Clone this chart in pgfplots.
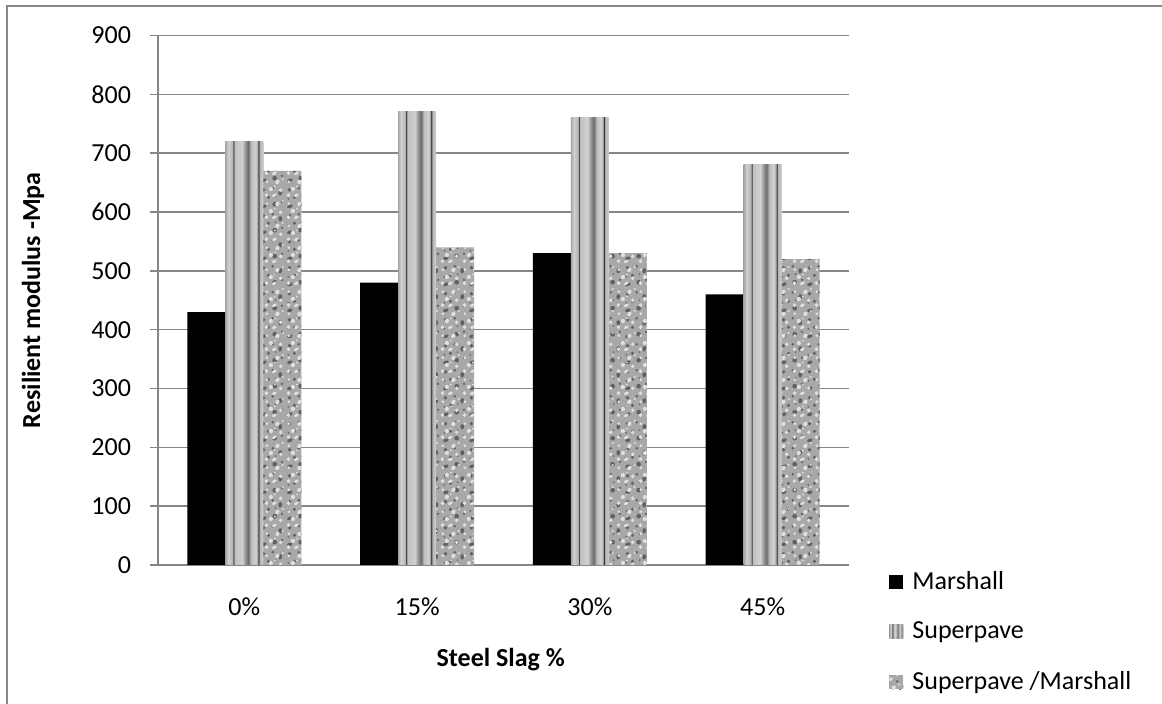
\documentclass[border=0pt]{standalone}
\usepackage{pgfplots}
\pgfplotsset{compat=1.18}
\usepackage{fontspec}
\setmainfont{Carlito}
\usetikzlibrary{patterns}

\definecolor{axisgray}{HTML}{868686}

% vertical stripes for the Superpave bars
\pgfdeclarehorizontalshading{stripes}{100bp}{%
  color(0bp)=(black!35); color(25bp)=(black!35);
  color(29bp)=(black!18); color(34.5bp)=(black!30);
  color(35.5bp)=(black!80); color(37bp)=(black!25);
  color(47bp)=(black!18); color(51bp)=(black!40);
  color(55bp)=(black!58); color(59bp)=(black!25);
  color(65bp)=(black!18); color(67.5bp)=(black!40);
  color(68.5bp)=(black!82); color(70bp)=(black!30);
  color(75bp)=(black!18); color(100bp)=(black!18)}

% mottled speckles for the Superpave/Marshall bars
\pgfdeclarepatternformonly{speckledark}{\pgfqpoint{0pt}{0pt}}{\pgfqpoint{13pt}{13pt}}{\pgfqpoint{13pt}{13pt}}{%
  \pgfpathellipse{\pgfqpoint{2.0pt}{1.9pt}}{\pgfqpoint{1.4pt}{0.3pt}}{\pgfqpoint{0pt}{0.9pt}}
  \pgfpathcircle{\pgfqpoint{7.6pt}{3.0pt}}{1.2pt}
  \pgfpathcircle{\pgfqpoint{4.4pt}{6.6pt}}{0.9pt}
  \pgfpathellipse{\pgfqpoint{10.5pt}{8.9pt}}{\pgfqpoint{0.9pt}{0.7pt}}{\pgfqpoint{-0.4pt}{1.2pt}}
  \pgfpathcircle{\pgfqpoint{1.8pt}{10.5pt}}{1.0pt}
  \pgfpathcircle{\pgfqpoint{6.6pt}{11.3pt}}{0.7pt}
  \pgfpathcircle{\pgfqpoint{11.4pt}{4.2pt}}{0.7pt}
  \pgfpathcircle{\pgfqpoint{8.1pt}{7.2pt}}{0.5pt}
  \pgfpathcircle{\pgfqpoint{1.2pt}{5.8pt}}{0.5pt}
  \pgfusepath{fill}}
\pgfdeclarepatternformonly{specklelight}{\pgfqpoint{0pt}{0pt}}{\pgfqpoint{11pt}{11pt}}{\pgfqpoint{11pt}{11pt}}{%
  \pgfpathcircle{\pgfqpoint{1.3pt}{1.5pt}}{1.0pt}
  \pgfpathellipse{\pgfqpoint{5.4pt}{1.4pt}}{\pgfqpoint{1.2pt}{0.4pt}}{\pgfqpoint{0pt}{0.8pt}}
  \pgfpathcircle{\pgfqpoint{3.6pt}{4.7pt}}{1.1pt}
  \pgfpathcircle{\pgfqpoint{8.7pt}{4.0pt}}{1.0pt}
  \pgfpathcircle{\pgfqpoint{1.5pt}{8.5pt}}{0.8pt}
  \pgfpathellipse{\pgfqpoint{7.0pt}{8.4pt}}{\pgfqpoint{1.1pt}{0.5pt}}{\pgfqpoint{-0.3pt}{1.0pt}}
  \pgfpathcircle{\pgfqpoint{9.8pt}{9.9pt}}{0.6pt}
  \pgfpathcircle{\pgfqpoint{5.7pt}{6.0pt}}{0.5pt}
  \pgfusepath{fill}}

\pgfplotstableread{
pos  marshall superpave ratio
0    430      720       670
1    480      770       540
2    530      760       530
3    460      680       520
}\slagdata

\begin{document}
\begin{tikzpicture}[font=\fontsize{13}{15.6}\selectfont]
\useasboundingbox (0,0) rectangle (581pt,352pt);
\begin{axis}[
  at={(79pt,69.5pt)}, anchor=south west,
  scale only axis, width=345.5pt, height=264.75pt,
  xmin=-0.5, xmax=3.5, ymin=0, ymax=900,
  axis x line=bottom, axis y line=left,
  axis line style={axisgray, line width=0.75pt, -},
  ytick={0,100,...,900},
  ymajorgrids,
  grid style={axisgray, line width=0.75pt},
  tick align=outside, major tick length=4pt,
  ytick style={axisgray, line width=0.75pt},
  xtick={0,1,2,3},
  xticklabels={0\%,15\%,30\%,45\%},
  major x tick style={draw=none},
  extra x ticks={-0.5,0.5,1.5,2.5,3.5},
  extra x tick labels={},
  extra x tick style={major x tick style={axisgray, line width=0.75pt}, grid=none},
  /pgf/number format/assume math mode=true,
  yticklabel style={anchor=east, xshift=-6pt},
  xticklabel style={anchor=center, yshift=-17pt},
  xlabel={\textbf{Steel Slag \%}},
  ylabel={\textbf{Resilient modulus -Mpa}},
  xlabel style={at={(axis description cs:0.496,-0.179)}, anchor=center},
  ylabel style={at={(axis description cs:-0.181,0.5)}, anchor=center},
  bar width=0.22,
  legend style={draw=none, fill=none, at={(axis description cs:1.058,-0.003)}, anchor=north west,
    inner sep=0pt, row sep=11pt, font=\fontsize{13}{15.6}\selectfont,
    nodes={inner xsep=4.5pt}},
  legend cell align=left,
  legend image code/.code={\path[#1] (0pt,-3.5pt) rectangle (7pt,3.5pt);},
]
\addplot[ybar, bar shift=-0.22, fill=black, draw=none] table[x=pos, y=marshall] {\slagdata};
\addlegendentry{Marshall}
% each Superpave bar on its own, so that the stripes fit every bar
\addplot[ybar, bar shift=0, shading=stripes, draw=none] coordinates {(0,720)};
\addlegendentry{Superpave}
\addplot[ybar, bar shift=0, shading=stripes, draw=none, forget plot] coordinates {(1,770)};
\addplot[ybar, bar shift=0, shading=stripes, draw=none, forget plot] coordinates {(2,760)};
\addplot[ybar, bar shift=0, shading=stripes, draw=none, forget plot] coordinates {(3,680)};
\addplot[ybar, bar shift=0.22, fill=black!34, draw=none,
  postaction={pattern=speckledark, pattern color=black!62},
  postaction={pattern=specklelight, pattern color=black!12}] table[x=pos, y=ratio] {\slagdata};
\addlegendentry{Superpave /Marshall}
\end{axis}
% frame of the figure
\draw[axisgray, line width=1pt] (3.35pt,0) -- (3.35pt,349.15pt) -- (581pt,349.15pt);
\end{tikzpicture}
\end{document}
